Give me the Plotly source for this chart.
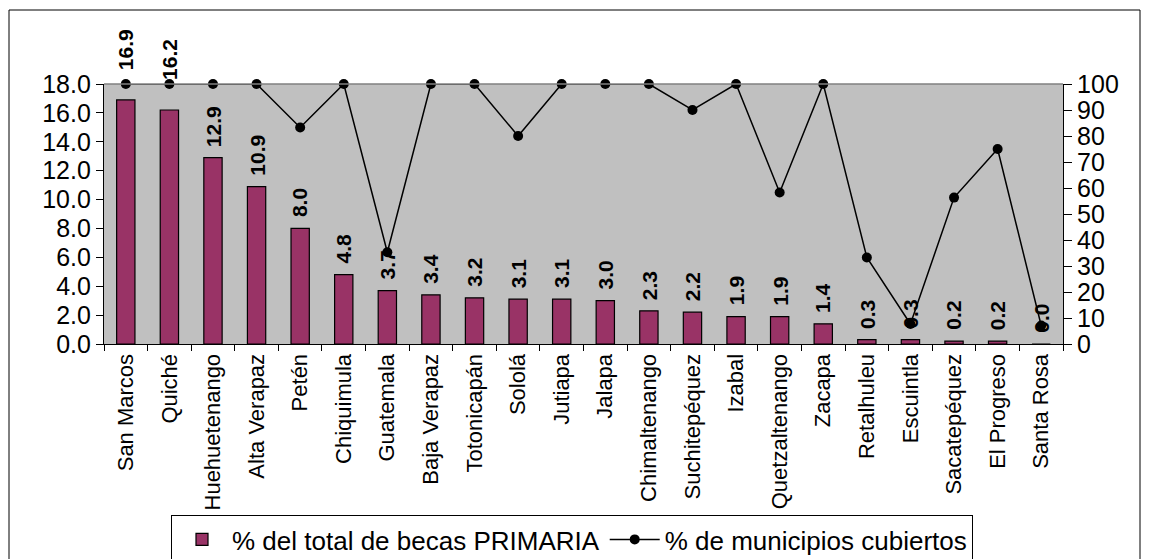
import plotly.graph_objects as go

categories = ["San Marcos", "Quiché", "Huehuetenango", "Alta Verapaz", "Petén", "Chiquimula",
              "Guatemala", "Baja Verapaz", "Totonicapán", "Sololá", "Jutiapa", "Jalapa",
              "Chimaltenango", "Suchitepéquez", "Izabal", "Quetzaltenango", "Zacapa",
              "Retalhuleu", "Escuintla", "Sacatepéquez", "El Progreso", "Santa Rosa"]
becas_primaria = [16.9, 16.2, 12.9, 10.9, 8.0, 4.8, 3.7, 3.4, 3.2, 3.1, 3.1, 3.0,
                  2.3, 2.2, 1.9, 1.9, 1.4, 0.3, 0.3, 0.2, 0.2, 0.0]
municipios_cubiertos = [100, 100, 100, 100, 83.3, 100, 35.3, 100, 100, 80, 100, 100,
                        100, 90, 100, 58.3, 100, 33.3, 7.7, 56.3, 75, 7.1]
left_ticks = [0, 2, 4, 6, 8, 10, 12, 14, 16, 18]
right_ticks = [0, 10, 20, 30, 40, 50, 60, 70, 80, 90, 100]

FONT = "Arial, Liberation Sans, sans-serif"

# the page body adds an 8px margin, so figure coords = screen coords - 8
OFF = 8
W, H = 1149 - OFF, 559 - OFF
L, R, T, B = 104 - OFF, 1063 - OFF, 84 - OFF, 344 - OFF
pw, ph = R - L, B - T


def px_x(x):
    return (x - OFF - L) / pw


def px_y(y):
    return (B - (y - OFF)) / ph


fig = go.Figure()
fig.add_trace(go.Bar(
    x=categories, y=becas_primaria, name="% del total de becas PRIMARIA",
    marker=dict(color="#993366", line=dict(color="black", width=1.2)),
    width=0.42, yaxis="y",
))
fig.add_trace(go.Scatter(
    x=categories, y=municipios_cubiertos, name="% de municipios cubiertos",
    mode="lines+markers", yaxis="y2",
    line=dict(color="black", width=1.5),
    marker=dict(color="black", size=10, symbol="circle"),
    cliponaxis=False,
))

annotations = []
for i, (c, v) in enumerate(zip(categories, becas_primaria)):
    shift = 28 if i < 2 else 9
    annotations.append(dict(
        x=c, y=v, xref="x", yref="y", text=f"<b>{v:.1f}</b>", showarrow=False,
        textangle=-90, yanchor="bottom", xanchor="center", yshift=shift,
        font=dict(family=FONT, size=21, color="black"),
    ))

shapes = [
    # outer chart border
    dict(type="rect", xref="paper", yref="paper",
         x0=px_x(9), x1=px_x(1140), y0=px_y(580), y1=px_y(10),
         line=dict(color="black", width=1), fillcolor="rgba(0,0,0,0)", layer="below"),
    # top border of plot area
    dict(type="line", xref="paper", yref="paper", x0=0, x1=1, y0=1, y1=1,
         line=dict(color="#808080", width=1.5)),
]

fig.update_layout(
    width=W, height=H,
    margin=dict(l=L, r=W - R, t=T, b=H - B, autoexpand=False),
    paper_bgcolor="white", plot_bgcolor="#C0C0C0",
    font=dict(family=FONT, size=25, color="black"),
    showlegend=True,
    legend=dict(orientation="h", x=px_x(171), y=px_y(515), xanchor="left", yanchor="top",
                bordercolor="black", borderwidth=1, bgcolor="white",
                font=dict(family=FONT, size=26, color="black"),
                itemwidth=50, tracegroupgap=0),
    xaxis=dict(type="category", tickangle=-90, tickson="boundaries", ticks="outside",
               ticklen=6, tickcolor="black", showline=True, linecolor="black", linewidth=1.2,
               showgrid=False, zeroline=False, tickfont=dict(family=FONT, size=22),
               range=[-0.5, len(categories) - 0.5], automargin=False),
    xaxis2=dict(overlaying="x", range=[-0.5, len(categories) - 0.5], tick0=-0.5, dtick=1,
                ticks="inside", ticklen=6, tickcolor="black", showticklabels=False,
                showgrid=False, zeroline=False, showline=False),
    yaxis=dict(range=[0, 18], tickvals=left_ticks, tickformat=".1f", ticks="outside",
               ticklen=7, tickcolor="black", showline=True, linecolor="black", linewidth=1.2,
               showgrid=False, zeroline=False, tickfont=dict(family=FONT, size=25),
               automargin=False),
    yaxis2=dict(range=[0, 100], tickvals=right_ticks, overlaying="y", side="right",
                ticks="outside", ticklen=8, tickcolor="black", showline=True,
                linecolor="black", linewidth=1.2, showgrid=False, zeroline=False,
                tickfont=dict(family=FONT, size=25), automargin=False),
    yaxis3=dict(range=[0, 18], tickvals=left_ticks, overlaying="y", side="left",
                ticks="inside", ticklen=7, tickcolor="black", showticklabels=False,
                showgrid=False, zeroline=False, showline=False),
    yaxis4=dict(range=[0, 100], tickvals=right_ticks, overlaying="y", side="right",
                ticks="inside", ticklen=7, tickcolor="black", showticklabels=False,
                showgrid=False, zeroline=False, showline=False),
    annotations=annotations,
    shapes=shapes,
    bargap=0.58,
)

fig.write_html("out.html")
